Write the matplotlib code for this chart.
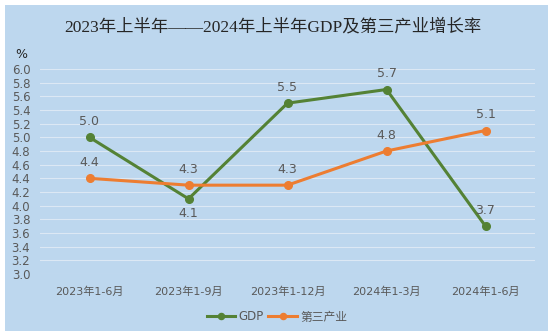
import matplotlib.pyplot as plt
from matplotlib.patches import Rectangle

periods = ["2023年1-6月", "2023年1-9月", "2023年1-12月", "2024年1-3月", "2024年1-6月"]
gdp = [5.0, 4.1, 5.5, 5.7, 3.7]
tertiary = [4.4, 4.3, 4.3, 4.8, 5.1]
gdp_label_pos = ["above", "below", "above", "above", "above"]
yticks = [3.0 + 0.2 * i for i in range(16)]

plt.rcParams["font.family"] = ["DejaVu Sans", "Noto Sans CJK SC"]

bg = "#BDD7EE"
text_color = "#595959"
green = "#548235"
orange = "#ED7D31"

fig = plt.figure(figsize=(5.53, 3.36), dpi=100)
fig.patches.append(Rectangle((5 / 553, 5 / 336), 543 / 553, 326 / 336,
                             transform=fig.transFigure, facecolor=bg,
                             edgecolor="none", zorder=-10))

ax = fig.add_axes([40 / 553, 1 - 274 / 336, 495 / 553, 205 / 336])
ax.set_facecolor("none")
x = list(range(len(periods)))

ax.plot(x, gdp, color=green, lw=2.2, marker="o", ms=5.5, label="GDP", zorder=3)
ax.plot(x, tertiary, color=orange, lw=2.2, marker="o", ms=5.5, label="第三产业", zorder=3)

for xi, v, pos in zip(x, gdp, gdp_label_pos):
    dy = 11.5 if pos == "above" else -10.5
    ax.annotate(f"{v:.1f}", (xi, v), xytext=(0, dy), textcoords="offset points",
                ha="center", va="center", fontsize=9, color=text_color)
for xi, v in zip(x, tertiary):
    ax.annotate(f"{v:.1f}", (xi, v), xytext=(0, 11.5), textcoords="offset points",
                ha="center", va="center", fontsize=9, color=text_color)

ax.set_xlim(-0.5, len(periods) - 0.5)
ax.set_ylim(3.0, 6.0)
ax.set_yticks(yticks)
ax.set_yticklabels([f"{t:.1f}" for t in yticks])
ax.set_xticks(x)
ax.set_xticklabels(periods)
ax.tick_params(axis="both", length=0, colors=text_color)
ax.tick_params(axis="y", pad=7, labelsize=8.5)
ax.tick_params(axis="x", pad=9, labelsize=8)
ax.grid(axis="y", color="#DCE8F4", lw=0.8)
for s in ax.spines.values():
    s.set_visible(False)

fig.text(273 / 553, 1 - 27 / 336, "2023年上半年——2024年上半年GDP及第三产业增长率",
         ha="center", va="center", fontsize=12.5, color="#262626",
         family=["Liberation Serif", "Noto Sans CJK SC"])
fig.text(21 / 553, 1 - 54 / 336, "%", ha="center", va="center",
         fontsize=9, color="#262626")

fig.legend(loc="center", bbox_to_anchor=(277 / 553, 1 - 317 / 336), ncol=2,
           frameon=False, fontsize=8.5, labelcolor=text_color, markerscale=0.8,
           handlelength=2.4, handletextpad=0.3, columnspacing=0.4)

fig.savefig("out.png", dpi=100)
